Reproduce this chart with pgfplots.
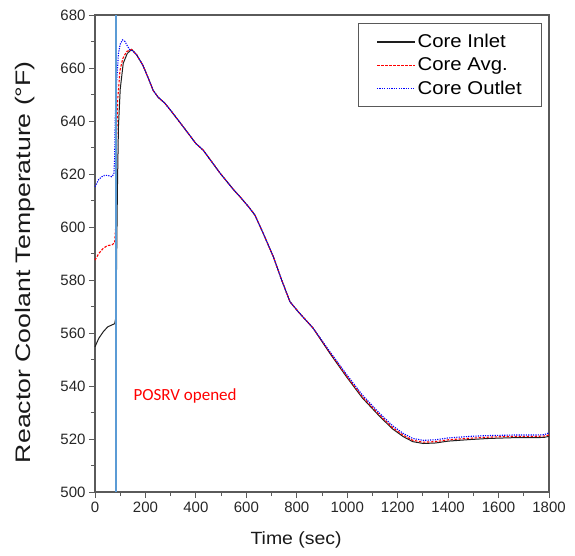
\documentclass[border=0pt]{standalone}
\usepackage{fontspec}
\setmainfont{Liberation Sans}
\newfontfamily\calib{Carlito}
\usepackage{graphicx}
\usepackage{pgfplots}
\pgfplotsset{compat=1.18}
\definecolor{vline}{RGB}{91,155,213}
\definecolor{frame}{RGB}{90,90,90}
\definecolor{cred}{RGB}{255,0,0}
\definecolor{cblue}{RGB}{0,0,255}
\definecolor{cblack}{RGB}{30,30,30}
\newcommand{\widen}[1]{\scalebox{1.1}[1]{#1}}
\begin{document}
\begin{tikzpicture}
\begin{axis}[
  scale only axis, width=454pt, height=477pt,
  xmin=0, xmax=1800, ymin=500, ymax=680,
  xtick distance=200, ytick distance=20, minor tick num=1,
  tick align=outside, tick pos=left,
  major tick length=6pt, minor tick length=4pt,
  every tick/.style={frame, line width=0.8pt},
  axis line style={frame, line width=1.2pt},
  /pgf/number format/assume math mode=true,
  /pgf/number format/1000 sep={},
  ticklabel style={font=\fontsize{15pt}{17pt}\selectfont, text=black!85},
  xlabel={\widen{Time (sec)}},
  ylabel={\scalebox{1.27}[1]{Reactor Coolant Temperature (\textdegree F)}},
  xlabel style={font=\fontsize{17.7pt}{21pt}\selectfont, text=black!90, at={(axis description cs:0.443,-0.1006)}, anchor=center},
  ylabel style={font=\fontsize{21pt}{26pt}\selectfont, text=black!90, at={(axis description cs:-0.154,0.482)}, anchor=center},
  clip=false,
  legend style={at={(axis description cs:0.985,0.983)}, anchor=north east,
    draw=black!65, line width=0.9pt, font=\fontsize{18.5pt}{22pt}\selectfont,
    inner xsep=18pt, inner ysep=9pt, row sep=4.5pt,
    nodes={inner sep=2pt}},
  legend cell align=left,
  legend image code/.code={\draw[#1] (0pt,0pt) -- (38pt,0pt);},
]
\addlegendimage{draw=cblack, line width=1.1pt}
\addlegendentry{\widen{Core Inlet}}
\addlegendimage{draw=cred, line width=1.2pt, dash pattern=on 2.5pt off 1.5pt}
\addlegendentry{\widen{Core Avg.}}
\addlegendimage{draw=cblue, line width=1.2pt, dash pattern=on 1.2pt off 1.2pt}
\addlegendentry{\widen{Core Outlet}}
\addplot[cblack, line width=1pt, forget plot] coordinates {
(0,554.8) (15,558) (33,560.5) (50,562.3) (66,563) (78,563.5) (83,566) (86,590) (89,615) (93,638)
(100,652) (112,661.8) (128,665.5) (145,667) (165,665) (190,661) (212,656) (231,651.5) (250,649)
(277,646.7) (300,644) (350,637.8) (400,631.5) (429,629) (496,620.3) (550,614) (575,611.4) (610,607.5)
(634,604.5) (667,597.6) (707,588.8) (740,580) (773,571.8) (806,568) (865,561.8) (930,552.5)
(997,543.5) (1060,535.5) (1130,528.4) (1180,523.8) (1222,520.9) (1260,519) (1302,518.3) (1350,518.5)
(1400,519.2) (1487,519.8) (1560,520.2) (1658,520.5) (1740,520.5) (1780,520.6) (1800,521)
};
\addplot[cred, line width=1.1pt, dash pattern=on 2.5pt off 1.5pt, forget plot] coordinates {
(0,587.5) (15,590) (33,592) (50,593) (66,593.2) (78,594) (82,600) (84,606) (86,634) (90,648)
(99,659) (110,663.5) (125,666.2) (145,667) (165,665) (190,661) (212,656) (231,651.5) (250,649)
(277,646.7) (300,644) (350,637.8) (400,631.5) (429,629) (496,620.3) (550,614) (575,611.4) (610,607.5)
(634,604.5) (667,597.6) (707,588.8) (740,580) (773,571.8) (806,568) (865,561.8) (930,552.8)
(997,543.9) (1060,536) (1130,528.9) (1180,524.3) (1222,521.4) (1260,519.5) (1302,518.8) (1350,519)
(1400,519.7) (1487,520.3) (1560,520.7) (1658,521) (1740,521) (1780,521.1) (1800,521.5)
};
\addplot[cblue, line width=1.1pt, dash pattern=on 1.2pt off 1.2pt, forget plot] coordinates {
(0,615.2) (15,618) (33,619.4) (50,619.5) (66,619) (75,620) (78,626.5) (80,640.4) (86,655) (93,665.5)
(100,669) (109,670.6) (119,670) (130,668) (139,666.8) (150,666.5) (165,665) (190,661) (212,656) (231,651.5) (250,649)
(277,646.7) (300,644) (350,637.8) (400,631.5) (429,629) (496,620.3) (550,614) (575,611.4) (610,607.5)
(634,604.5) (667,597.6) (707,588.8) (740,580) (773,571.8) (806,568) (865,561.8) (930,553.1)
(997,544.4) (1060,536.6) (1130,529.5) (1180,525) (1222,522.1) (1260,520.2) (1302,519.5) (1350,519.7)
(1400,520.4) (1487,521) (1560,521.3) (1658,521.5) (1740,521.5) (1780,521.6) (1800,522.3)
};
\addplot[vline, line width=2pt, forget plot] coordinates {(85,500) (85,680)};
\node[anchor=base west, text=red, font=\calib\fontsize{17pt}{20pt}\selectfont] at (axis cs:139,534.5) {POSRV opened};
\coordinate (O) at (rel axis cs:0,0);
\end{axis}
\path (O) ++(-95pt,-63pt) rectangle ++(575pt,555pt);
\end{tikzpicture}
\end{document}
